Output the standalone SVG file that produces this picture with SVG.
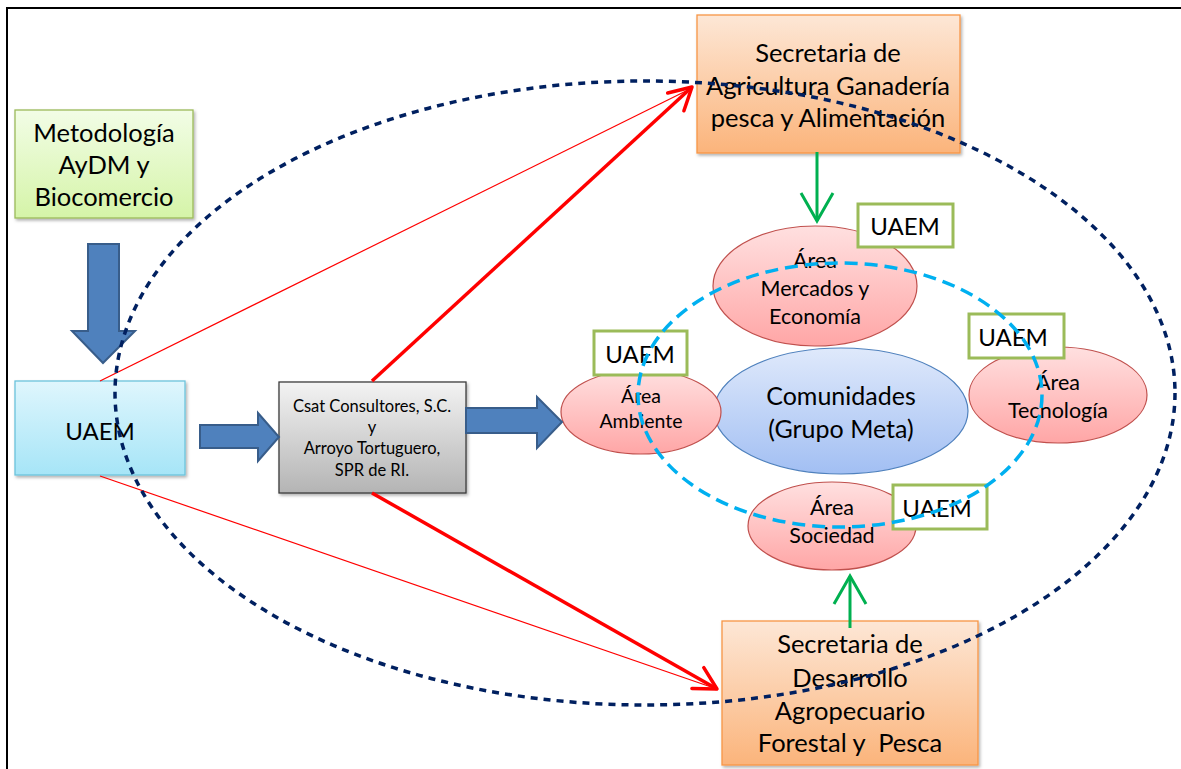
<svg xmlns="http://www.w3.org/2000/svg" width="1181" height="769" viewBox="0 0 1181 769">
<defs>
<style>
text{font-family:Lato,"Liberation Sans",sans-serif;fill:#000;text-anchor:middle;dominant-baseline:central}
.big{font-size:25.5px}
.lab{font-size:24px}
.com{font-size:25px}
.mid{font-size:21.5px}
.sm{font-size:19.5px}
.csat{font-size:16.5px}
.box{stroke-width:1.3}
.lbl{fill:#fff;stroke:#9bbb59;stroke-width:3}
.area{stroke:#c0504d;stroke-width:1.2;fill:url(#gPink)}
.blk{fill:#4f81bd;stroke:#385d8a;stroke-width:2}
.red{stroke:#ff0000;fill:none}
.grn{stroke:#00b050;stroke-width:3;fill:none}
</style>
<linearGradient id="gGreen" x1="0" y1="0" x2="0" y2="1"><stop offset="0" stop-color="#f2fde6"/><stop offset="1" stop-color="#d5f4a8"/></linearGradient>
<linearGradient id="gCyan" x1="0" y1="0" x2="0" y2="1"><stop offset="0" stop-color="#dff6fd"/><stop offset="1" stop-color="#a6e5f7"/></linearGradient>
<linearGradient id="gGray" x1="0" y1="0" x2="0" y2="1"><stop offset="0" stop-color="#f3f3f3"/><stop offset="1" stop-color="#b4b4b4"/></linearGradient>
<linearGradient id="gOrange" x1="0" y1="0" x2="0" y2="1"><stop offset="0" stop-color="#fde7d6"/><stop offset="1" stop-color="#fbb47b"/></linearGradient>
<linearGradient id="gPink" x1="0" y1="0" x2="0" y2="1"><stop offset="0" stop-color="#ffe0e0"/><stop offset="1" stop-color="#ffa6a6"/></linearGradient>
<linearGradient id="gBlue" x1="0" y1="0" x2="0" y2="1"><stop offset="0" stop-color="#dfe9fb"/><stop offset="1" stop-color="#a2bff3"/></linearGradient>
<filter id="sh" x="-10%" y="-10%" width="130%" height="130%"><feDropShadow dx="1.5" dy="2" stdDeviation="1.5" flood-color="#000" flood-opacity="0.3"/></filter>
<marker id="mRed" markerUnits="userSpaceOnUse" viewBox="-26 -16 30 32" refX="0" refY="0" markerWidth="30" markerHeight="32" orient="auto"><path d="M -22 -12 L 0 0 L -22 12" fill="none" stroke="#ff0000" stroke-width="3.5" stroke-linecap="round" stroke-linejoin="round"/></marker>
<marker id="mGrn" markerUnits="userSpaceOnUse" viewBox="-32 -20 36 40" refX="0" refY="0" markerWidth="36" markerHeight="40" orient="auto"><path d="M -28 -16 L 0 0 L -28 16" fill="none" stroke="#00b050" stroke-width="3"/></marker>
</defs>
<rect width="1181" height="769" fill="#fff"/>
<path d="M7 769 V8 H1181" fill="none" stroke="#000" stroke-width="2"/>

<g id="metodologia">
<rect x="15" y="110" width="178" height="108" fill="url(#gGreen)" stroke="#9bbb59" class="box" filter="url(#sh)"/>
<text class="big" x="104" y="132">Metodología</text>
<text class="big" x="104" y="164">AyDM y</text>
<text class="big" x="104" y="196">Biocomercio</text>
</g>

<g id="uaem">
<rect x="15" y="381" width="170" height="94" fill="url(#gCyan)" stroke="#6cc3dc" class="box" filter="url(#sh)"/>
<text class="lab" x="100" y="430">UAEM</text>
</g>

<g id="csat">
<rect x="279" y="382" width="187" height="111" fill="url(#gGray)" stroke="#3c3c3c" class="box" filter="url(#sh)"/>
<text class="csat" x="372" y="406">Csat Consultores, S.C.</text>
<text class="csat" x="372" y="427">y</text>
<text class="csat" x="372" y="448">Arroyo Tortuguero,</text>
<text class="csat" x="372" y="470">SPR de RI.</text>
</g>

<g id="sagarpa">
<rect x="697" y="15" width="263" height="138" fill="url(#gOrange)" stroke="#f79646" class="box" filter="url(#sh)"/>
<text class="big" x="828" y="52">Secretaria de</text>
<text class="big" x="828" y="85">Agricultura Ganadería</text>
<text class="big" x="828" y="117">pesca y Alimentación</text>
</g>

<g id="sedapf">
<rect x="722" y="621" width="256" height="144" fill="url(#gOrange)" stroke="#f79646" class="box" filter="url(#sh)"/>
<text class="big" x="850" y="643">Secretaria de</text>
<text class="big" x="850" y="677">Desarrollo</text>
<text class="big" x="850" y="710">Agropecuario</text>
<text class="big" x="850" y="742" xml:space="preserve">Forestal y  Pesca</text>
</g>

<g id="area-mercados">
<ellipse class="area" cx="815" cy="286" rx="102" ry="60"/>
<text class="mid" x="815" y="260">Área</text>
<text class="mid" x="815" y="288">Mercados y</text>
<text class="mid" x="815" y="316">Economía</text>
</g>

<g id="comunidades">
<ellipse cx="841" cy="411" rx="127" ry="63" fill="url(#gBlue)" stroke="#4f81bd" stroke-width="1.2"/>
<text class="com" x="841" y="395">Comunidades</text>
<text class="com" x="841" y="428">(Grupo Meta)</text>
</g>

<g id="area-ambiente">
<ellipse class="area" cx="641" cy="412" rx="80" ry="42"/>
<text class="sm" x="641" y="395">Área</text>
<text class="sm" x="641" y="420">Ambiente</text>
</g>

<g id="area-tecnologia">
<ellipse class="area" cx="1058" cy="395" rx="89" ry="48"/>
<text class="mid" x="1058" y="382">Área</text>
<text class="mid" x="1058" y="410">Tecnología</text>
</g>

<g id="area-sociedad">
<ellipse class="area" cx="832" cy="526" rx="84" ry="44"/>
<text class="mid" x="832" y="507">Área</text>
<text class="mid" x="832" y="535">Sociedad</text>
</g>

<g id="uaem-mercados">
<rect class="lbl" x="858" y="204" width="95" height="43"/>
<text class="lab" x="905" y="225">UAEM</text>
</g>
<g id="uaem-ambiente">
<rect class="lbl" x="594" y="331" width="93" height="44"/>
<text class="lab" x="640" y="353">UAEM</text>
</g>
<g id="uaem-tecnologia">
<rect class="lbl" x="969" y="314" width="95" height="44"/>
<text class="lab" x="1013" y="336">UAEM</text>
</g>
<g id="uaem-sociedad">
<rect class="lbl" x="893" y="485" width="94" height="44"/>
<text class="lab" x="937" y="507">UAEM</text>
</g>

<g id="connectors">
<line class="red" x1="100" y1="381" x2="690" y2="89" stroke-width="1.2"/>
<line class="red" x1="100" y1="476" x2="714" y2="688" stroke-width="1.2"/>
<line class="red" x1="372" y1="381" x2="692" y2="87" stroke-width="3.5" marker-end="url(#mRed)"/>
<line class="red" x1="372" y1="493" x2="717" y2="689" stroke-width="3.5" marker-end="url(#mRed)"/>
<line class="grn" x1="817" y1="152" x2="817" y2="221" marker-end="url(#mGrn)"/>
<line class="grn" x1="850" y1="628" x2="850" y2="576" marker-end="url(#mGrn)"/>
<path class="blk" d="M88 244 H119 V331 H135 L103 363 L72 331 H88 Z"/>
<path class="blk" d="M200 425 H258 V413 L279 437 L258 461 V448 H200 Z"/>
<path class="blk" d="M466 408 H537 V397 L562 422 L537 448 V433 H466 Z"/>
<ellipse cx="840" cy="395" rx="202" ry="132" fill="none" stroke="#00b0f0" stroke-width="3.5" stroke-dasharray="13 7"/>
<ellipse cx="645" cy="393" rx="530" ry="312" fill="none" stroke="#002060" stroke-width="3.5" stroke-dasharray="7 6"/>
</g>
</svg>
